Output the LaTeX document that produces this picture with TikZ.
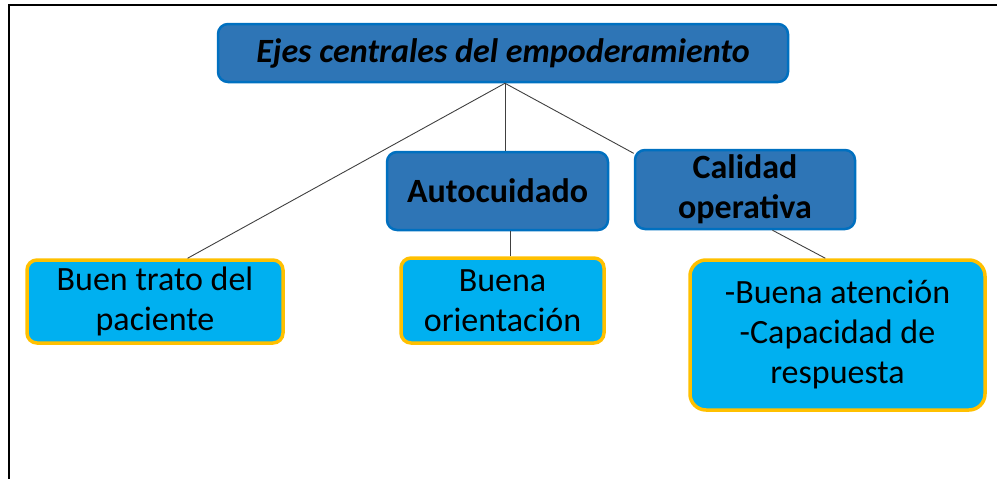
\documentclass[tikz,border=0pt]{standalone}
\usepackage{fontspec}
\setmainfont{Carlito}
\definecolor{ejefill}{HTML}{2E75B6}
\definecolor{ejeline}{HTML}{0070C0}
\definecolor{itemfill}{HTML}{00B0F0}
\definecolor{itemline}{HTML}{FFC000}
\newlength{\boxradius}
\setlength{\boxradius}{10pt}

\begin{document}
\begin{tikzpicture}[x=1pt, y=-1pt,
    ejebox/.style={draw=ejeline, fill=ejefill, line width=2.5pt,
      rounded corners=\boxradius, align=center, inner sep=0pt,
      font=\fontsize{34}{40}\selectfont\bfseries},
    itembox/.style={draw=itemline, fill=itemfill, line width=3.5pt,
      rounded corners=\boxradius, align=center, inner sep=0pt,
      font=\fontsize{34}{40}\selectfont},
    link/.style={black!75, line width=0.9pt}]
  \useasboundingbox (0,0) rectangle (997,479);
  \draw[line width=1.8pt] (9,479) -- (9,5) -- (997,5);
  % top row
  \node[ejebox, minimum width=570, minimum height=58,
    font=\fontsize{34}{40}\selectfont\bfseries\itshape] (eje) at (503,53)
    {Ejes centrales del empoderamiento};
  \node[ejebox, minimum width=221, minimum height=78] (auto) at (497.5,191) {Autocuidado};
  \node[ejebox, minimum width=220, minimum height=79] (calidad) at (745,189.5) {Calidad\\operativa};
  % lower boxes
  \node[itembox, minimum width=256, minimum height=83] (trato) at (155,301.5) {Buen trato del\\paciente};
  \node[itembox, minimum width=203, minimum height=85] (orient) at (502.5,300.5) {Buena\\orientación};
  \node[itembox, minimum width=295, minimum height=150, rounded corners=16pt] (atencion) at (837.5,335)
    {-Buena atención\\-Capacidad de\\respuesta};
  % links
  \draw[link] ([xshift=2pt]eje.south) -- (trato.53);
  \draw[link] ([xshift=2pt]eje.south) -- ([xshift=2pt]eje.south |- auto.north);
  \draw[link] ([xshift=2pt]eje.south) -- (calidad.162);
  \draw[link] ([xshift=7.5pt]orient.north) -- ([xshift=7.5pt]orient.north |- auto.south);
  \draw[link] (calidad.-56) -- (atencion.99);
\end{tikzpicture}
\end{document}
